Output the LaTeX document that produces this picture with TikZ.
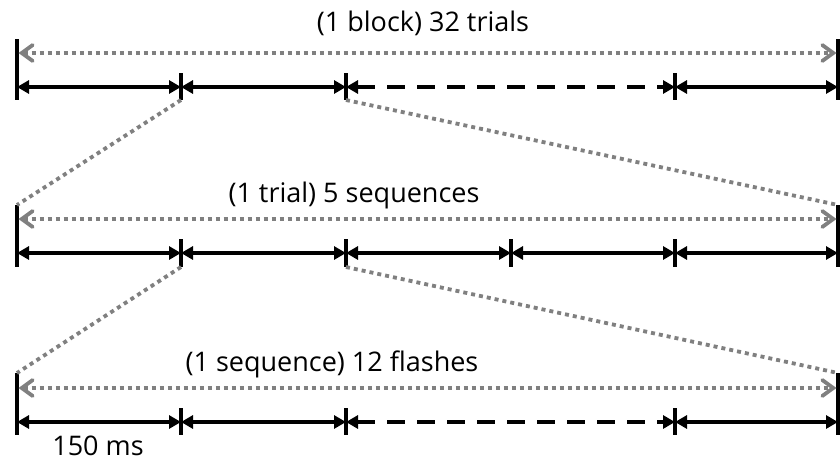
\documentclass[tikz,border=0pt]{standalone}
\usepackage{fontspec}
\setmainfont{Open Sans}
\usetikzlibrary{arrows.meta}
\tikzset{
  bar/.style={line width=3.8pt, black},
  seg/.style={line width=3.8pt, black, {Triangle[length=12pt,width=13pt]}-{Triangle[length=12pt,width=13pt]}},
  dseg/.style={seg, dash pattern=on 18pt off 12pt},
  span/.style={line width=3.8pt, gray, dash pattern=on 4pt off 4pt, {Straight Barb[length=11pt,width=16pt,line cap=round]}-{Straight Barb[length=11pt,width=16pt,line cap=round]}},
  zoomline/.style={line width=3.8pt, gray, dash pattern=on 4pt off 4pt},
  lbl/.style={font=\fontsize{27}{32}\selectfont, inner sep=0pt}
}
\begin{document}
\begin{tikzpicture}[x=1pt,y=-1pt]
\useasboundingbox (0,0) rectangle (840,463);
% ---------- row 1 ----------
\coordinate (a0t) at (17,39);  \coordinate (a0b) at (17,100);
\coordinate (a5t) at (838,39); \coordinate (a5b) at (838,100);
\coordinate (a0d) at (18.5,53); \coordinate (a5d) at (836.5,53);
\coordinate (a0s) at (17,87); \coordinate (a5s) at (838,87);
\foreach \n/\x in {1/181,2/346,4/675}{
  \coordinate (a\n t) at (\x,73); \coordinate (a\n b) at (\x,100); \coordinate (a\n s) at (\x,87);
}
\draw[bar] (a0t) -- (a0b);
\draw[bar] (a5t) -- (a5b);
\foreach \n in {1,2,4}{\draw[bar] (a\n t) -- (a\n b);}
\draw[span] (a0d) -- (a5d);
\draw[seg] (a0s) -- (a1s);
\draw[seg] (a1s) -- (a2s);
\draw[dseg] (a2s) -- (a4s);
\draw[seg] (a4s) -- (a5s);
\node[lbl] (t1) at (423,23) {(1 block) 32 trials};
% ---------- row 2 ----------
\coordinate (b0t) at (17,205);  \coordinate (b0b) at (17,267);
\coordinate (b5t) at (838,205); \coordinate (b5b) at (838,267);
\coordinate (b0d) at (18.5,219); \coordinate (b5d) at (836.5,219);
\coordinate (b0s) at (17,253); \coordinate (b5s) at (838,253);
\foreach \n/\x in {1/181,2/346,3/511,4/675}{
  \coordinate (b\n t) at (\x,239); \coordinate (b\n b) at (\x,267); \coordinate (b\n s) at (\x,253);
}
\draw[bar] (b0t) -- (b0b);
\draw[bar] (b5t) -- (b5b);
\foreach \n in {1,2,3,4}{\draw[bar] (b\n t) -- (b\n b);}
\draw[span] (b0d) -- (b5d);
\draw[seg] (b0s) -- (b1s);
\draw[seg] (b1s) -- (b2s);
\draw[seg] (b2s) -- (b3s);
\draw[seg] (b3s) -- (b4s);
\draw[seg] (b4s) -- (b5s);
\node[lbl] (t2) at (354,195) {(1 trial) 5 sequences};
% ---------- row 3 ----------
\coordinate (c0t) at (17,373);  \coordinate (c0b) at (17,435);
\coordinate (c5t) at (838,373); \coordinate (c5b) at (838,435);
\coordinate (c0d) at (18.5,388); \coordinate (c5d) at (836.5,388);
\coordinate (c0s) at (17,422); \coordinate (c5s) at (838,422);
\foreach \n/\x in {1/181,2/346,4/675}{
  \coordinate (c\n t) at (\x,408); \coordinate (c\n b) at (\x,435); \coordinate (c\n s) at (\x,422);
}
\draw[bar] (c0t) -- (c0b);
\draw[bar] (c5t) -- (c5b);
\foreach \n in {1,2,4}{\draw[bar] (c\n t) -- (c\n b);}
\draw[span] (c0d) -- (c5d);
\draw[seg] (c0s) -- (c1s);
\draw[seg] (c1s) -- (c2s);
\draw[dseg] (c2s) -- (c4s);
\draw[seg] (c4s) -- (c5s);
\node[lbl] (t3) at (332,364) {(1 sequence) 12 flashes};
\node[lbl] (t4) at (98,446) {150 ms};
% ---------- zoom connectors ----------
\draw[zoomline] (a1b) -- (b0t);
\draw[zoomline] (a2b) -- (b5t);
\draw[zoomline] (b1b) -- (c0t);
\draw[zoomline] (b2b) -- (c5t);
\end{tikzpicture}
\end{document}
